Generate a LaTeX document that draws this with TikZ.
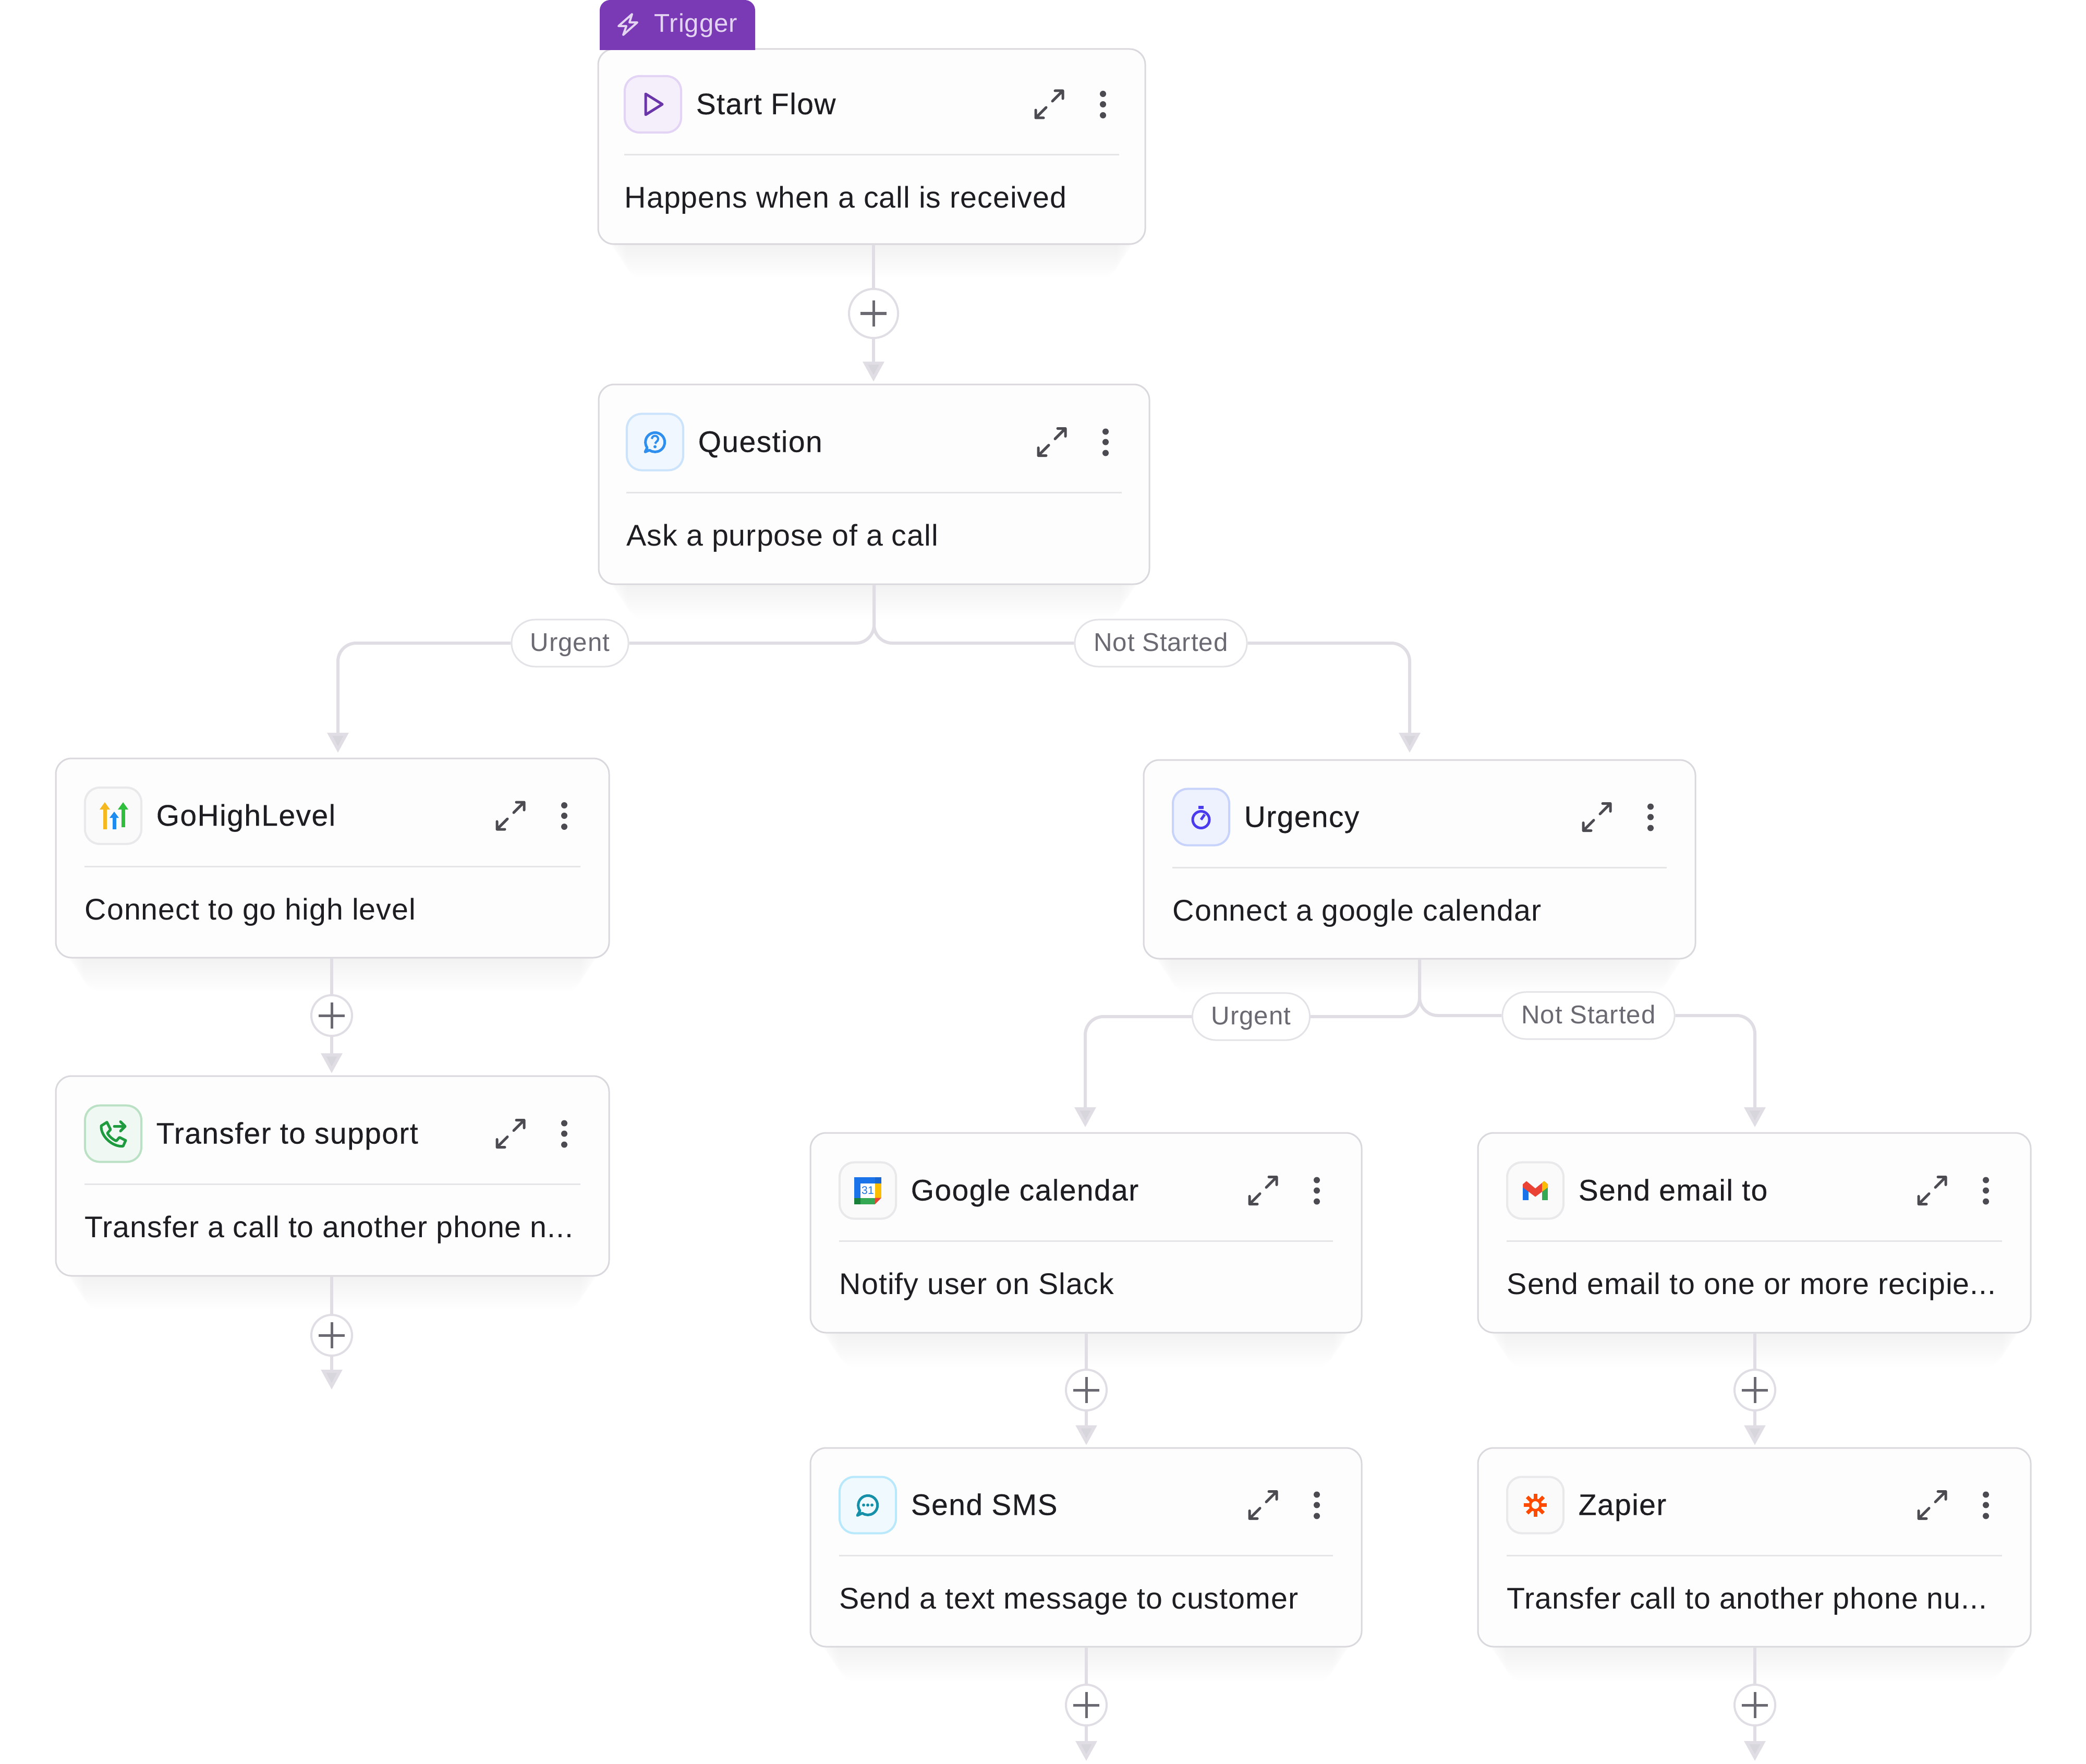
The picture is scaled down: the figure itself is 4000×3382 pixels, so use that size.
\documentclass[tikz,border=0pt]{standalone}
\usepackage{fontspec}
\setmainfont[LetterSpace=1.8]{Liberation Sans}
\newfontfamily\titlefont[LetterSpace=2.5,FakeBold=0.25]{Liberation Sans}
\usetikzlibrary{arrows.meta,shapes.misc}
\definecolor{cardline}{HTML}{DAD8DD}
\definecolor{cardfill}{HTML}{FDFDFE}
\definecolor{flowgrey}{HTML}{E0DEE4}
\definecolor{arrowgrey}{HTML}{D8D6DD}
\definecolor{inkdark}{HTML}{1D1D22}
\definecolor{inkgrey}{HTML}{4C4B52}
\definecolor{pillgrey}{HTML}{6B6971}
\definecolor{tabpurple}{HTML}{7B3AB5}
\definecolor{tablight}{HTML}{E3D5F2}
\definecolor{playpurple}{HTML}{6A35A8}
\definecolor{playframe}{HTML}{E3D4F5}
\definecolor{playfill}{HTML}{F4EFFB}
\definecolor{askblue}{HTML}{2F8FEF}
\definecolor{callgreen}{HTML}{1E9A3F}
\definecolor{timerblue}{HTML}{4A3BEF}
\definecolor{timerframe}{HTML}{C8D3FB}
\definecolor{timerfill}{HTML}{EEF1FE}
\definecolor{chatteal}{HTML}{1590A8}
\definecolor{zaporange}{HTML}{FF4A00}
\definecolor{gblue}{HTML}{1A73E8}
\definecolor{gdeep}{HTML}{1967D2}
\definecolor{ggreen}{HTML}{34A853}
\definecolor{gdark}{HTML}{188038}
\definecolor{gyellow}{HTML}{FBBC04}
\definecolor{gred}{HTML}{EA4335}
\definecolor{ghlyellow}{HTML}{F5B81F}
\definecolor{ghlblue}{HTML}{1D8BF0}
\definecolor{ghlgreen}{HTML}{2FBF3C}
\tikzset{
flowcard/.style={draw=cardline, fill=cardfill, line width=0.03cm, rounded corners=0.3cm, inner sep=0pt},
cardshadow/.style={fill=black, opacity=0.005, rounded corners=0.3cm},
iconbox/.style={rounded corners=0.28cm, line width=0.04cm, minimum size=1.08cm, inner sep=0pt},
cardtitle/.style={anchor=base west, inner sep=0pt, text=inkdark, font=\titlefont\fontsize{16.2}{20}\selectfont},
cardtext/.style={anchor=base west, inner sep=0pt, text=inkdark, font=\fontsize{16.3}{20}\selectfont},
divider/.style={draw=cardline!70, line width=0.03cm},
toolline/.style={draw=inkgrey, line width=0.05cm, line cap=round, line join=round},
tooldot/.style={circle, fill=inkgrey, minimum size=0.12cm, inner sep=0pt},
flowline/.style={draw=flowgrey, line width=0.06cm, rounded corners=0.35cm},
flowarrow/.style={flowline, -{Triangle[length=0.38cm,width=0.4cm,fill=arrowgrey]}, shorten >=0.04cm},
plusbtn/.style={circle, draw=flowgrey, fill=white, line width=0.04cm, minimum size=0.78cm, inner sep=0pt},
plusline/.style={draw=pillgrey, line width=0.05cm},
pill/.style={rounded rectangle, draw=cardline!75, fill=white, line width=0.03cm, minimum height=0.9cm, inner sep=0pt, text height=0.4cm, text depth=0.1cm, text=pillgrey, font=\fontsize{14}{17}\selectfont},
iconplain/.style={draw=cardline!60, fill=black!2},
iconplay/.style={draw=playframe, fill=playfill},
iconask/.style={draw=askblue!25, fill=askblue!7},
iconcall/.style={draw=callgreen!30, fill=callgreen!7},
icontimer/.style={draw=timerframe, fill=timerfill},
iconchat/.style={draw=cyan!28, fill=cyan!6},
}
\newcommand{\cardpad}{55}
\newcommand{\flowcardat}[8]{%
\begin{scope}[shift={(#2,#3)}]
\foreach \sh in {5,10,...,65} \fill[cardshadow] (10+\sh/1.5,#5-120) rectangle (#4-10-\sh/1.5,#5+\sh);
\node[flowcard, minimum width=#4*0.01cm, minimum height=#5*0.01cm] (#1) at (#4/2,#5/2) {};
\node[iconbox,#8] (#1icon) at (\cardpad+55,#5/2-81) {};
\node[cardtitle] (#1title) at (\cardpad+137,#5/2-62) {#6};
\draw[divider] (\cardpad,#5/2+16) -- (#4-\cardpad,#5/2+16);
\node[cardtext] (#1text) at (\cardpad,#5/2+118) {#7};
\begin{scope}[xshift=(55-\cardpad)*0.01cm]
\draw[toolline] (#4-183,#5/2-87) -- (#4-163,#5/2-107) (#4-178,#5/2-107) -- (#4-163,#5/2-107) -- (#4-163,#5/2-92);
\draw[toolline] (#4-195,#5/2-75) -- (#4-215,#5/2-55) (#4-215,#5/2-70) -- (#4-215,#5/2-55) -- (#4-200,#5/2-55);
\node[tooldot] (#1dota) at (#4-86,#5/2-101) {};
\node[tooldot] (#1dotb) at (#4-86,#5/2-81) {};
\node[tooldot] (#1dotc) at (#4-86,#5/2-60) {};
\end{scope}
\end{scope}}
\newcommand{\plusat}[4][plusbtn]{%
\node[#1] (#2) at (#3,#4) {};
\draw[plusline] ([xshift=-0.25cm]#2.center) -- ([xshift=0.25cm]#2.center) ([yshift=-0.25cm]#2.center) -- ([yshift=0.25cm]#2.center);}
\begin{document}
\begin{tikzpicture}[x=0.01cm,y=-0.01cm]
\path[use as bounding box, fill=white] (0,0) rectangle (4000,3382);
\renewcommand{\cardpad}{50}
\flowcardat{start}{1147}{94}{1049}{374}{Start Flow}{Happens when a call is received}{iconplay}
\renewcommand{\cardpad}{53}
\flowcardat{qst}{1148}{737}{1056}{383}{Question}{Ask a purpose of a call}{iconask}
\renewcommand{\cardpad}{55}
\flowcardat{ghl}{107}{1454}{1061}{382}{GoHighLevel}{Connect to go high level}{iconplain}
\flowcardat{tsf}{107}{2063}{1061}{383}{Transfer to support}{Transfer a call to another phone n...}{iconcall}
\flowcardat{urg}{2193}{1457}{1058}{381}{Urgency}{Connect a google calendar}{icontimer}
\flowcardat{cal}{1554}{2172}{1057}{383}{Google calendar}{Notify user on Slack}{iconplain}
\flowcardat{mail}{2834}{2172}{1060}{383}{Send email to}{Send email to one or more recipie...}{iconplain}
\flowcardat{sms}{1554}{2776}{1057}{381}{Send SMS}{Send a text message to customer}{iconchat}
\flowcardat{zap}{2834}{2776}{1060}{381}{Zapier}{Transfer call to another phone nu...}{iconplain}
\fill[tabpurple] (1150,96) [rounded corners=0.2cm] -- (1150,0) -- (1448,0) [sharp corners] -- (1448,96) -- cycle;
\node[anchor=base west, inner sep=0pt, text=tablight, font=\fontsize{14}{17}\selectfont] (triggerlabel) at (1254,62) {Trigger};
\draw[tablight, line width=0.04cm, line join=round] (1212,27) -- (1186,50) -- (1201,50) -- (1195,67) -- (1222,43) -- (1207,43) -- cycle;
\plusat[plusbtn, minimum size=0.94cm]{plusa}{1675}{601}
\plusat{plusb}{636}{1947}
\plusat{plusc}{636}{2560}
\plusat{plusd}{2083}{2665}
\plusat{pluse}{2083}{3269}
\plusat{plusf}{3365}{2665}
\plusat{plusg}{3365}{3269}
\node[pill, minimum width=2.24cm] (lbla) at (1093,1233) {Urgent};
\node[pill, minimum width=3.3cm] (lblb) at (2226,1233) {Not Started};
\node[pill, minimum width=2.25cm] (lblc) at (2399,1949) {Urgent};
\node[pill, minimum width=3.3cm] (lbld) at (3046,1947) {Not Started};
\coordinate (ghlin) at (648,1447);
\coordinate (urgin) at (2703,1447);
\coordinate (calin) at (2081,2165);
\coordinate (mailin) at (3365,2165);
\coordinate (endc) at (636,2668);
\coordinate (ende) at (2083,3380);
\coordinate (endg) at (3365,3380);
\draw[flowline] (plusa |- start.south) -- (plusa);
\draw[flowarrow] (plusa) -- (plusa |- qst.north);
\draw[flowline] (plusb |- ghl.south) -- (plusb);
\draw[flowarrow] (plusb) -- (plusb |- tsf.north);
\draw[flowline] (plusc |- tsf.south) -- (plusc);
\draw[flowarrow] (plusc) -- (endc);
\draw[flowline] (plusd |- cal.south) -- (plusd);
\draw[flowarrow] (plusd) -- (plusd |- sms.north);
\draw[flowline] (pluse |- sms.south) -- (pluse);
\draw[flowarrow] (pluse) -- (ende);
\draw[flowline] (plusf |- mail.south) -- (plusf);
\draw[flowarrow] (plusf) -- (plusf |- zap.north);
\draw[flowline] (plusg |- zap.south) -- (plusg);
\draw[flowarrow] (plusg) -- (endg);
\draw[flowline] (qst.south) |- (lbla.east);
\draw[flowline] (qst.south) |- (lblb.west);
\draw[flowarrow] (lbla.west) -| (ghlin);
\draw[flowarrow] (lblb.east) -| (urgin);
\draw[flowline] (urg.south) |- (lblc.east);
\draw[flowline] (urg.south) |- (lbld.west);
\draw[flowarrow] (lblc.west) -| (calin);
\draw[flowarrow] (lbld.east) -| (mailin);
\begin{scope}[shift={(starticon.center)}]
\draw[playpurple, line width=0.05cm, line join=round] (-14,-20) -- (18,0) -- (-14,20) -- cycle;
\end{scope}
\begin{scope}[shift={(qsticon.center)}]
\draw[askblue, line width=0.05cm, line join=round] (-15,11) arc[start angle=145, end angle=485, radius=18.5] -- (-19,19) -- cycle;
\draw[askblue, line width=0.04cm] (-6,-6) arc[start angle=180, end angle=420, radius=6] -- (0,3);
\fill[askblue] (0,9) circle (3);
\end{scope}
\begin{scope}[shift={(ghlicon.center)}, line width=0.07cm]
\draw[ghlyellow, -{Triangle[length=0.14cm,width=0.19cm]}] (-16,26) -- (-16,-26);
\draw[ghlblue, -{Triangle[length=0.12cm,width=0.17cm]}] (2,26) -- (2,-8);
\draw[ghlgreen, -{Triangle[length=0.14cm,width=0.19cm]}] (19,22) -- (19,-26);
\end{scope}
\begin{scope}[shift={(tsficon.center)}]
\draw[callgreen, line width=0.05cm, line join=round] (-23,-15) -- (-12,-22) -- (-5,-8) -- (-11,-1) .. controls (-7,6) and (-1,11) .. (6,14) -- (12,7) -- (24,13) -- (19,24) .. controls (0,26) and (-24,6) .. cycle;
\draw[callgreen, line width=0.05cm, line join=round, line cap=round] (2,-14) -- (23,-14) (14,-23) -- (23,-14) -- (14,-5);
\end{scope}
\begin{scope}[shift={(urgicon.center)}]
\draw[timerblue, line width=0.05cm] (0,5) circle (16);
\draw[timerblue, line width=0.05cm] (0,5) -- (7,-5);
\draw[timerblue, line width=0.06cm] (-5,-19) -- (5,-19);
\end{scope}
\begin{scope}[shift={(calicon.center)}]
\fill[white] (-14,-14) rectangle (14,14);
\fill[gblue] (-26,-26) rectangle (14,-14);
\fill[gblue] (-26,-14) rectangle (-14,14);
\fill[gdeep] (14,-26) rectangle (26,-14);
\fill[gyellow] (14,-14) rectangle (26,14);
\fill[ggreen] (-14,14) rectangle (14,26);
\fill[gdark] (-26,14) rectangle (-14,26);
\fill[gred] (14,14) -- (26,14) -- (14,26) -- cycle;
\node[inner sep=0pt, text=gblue, font=\fontsize{6}{7}\selectfont] (calday) at (0,0) {31};
\end{scope}
\begin{scope}[shift={(mailicon.center)}]
\fill[gblue] (-24,-10) rectangle (-13,18);
\fill[ggreen] (13,-10) rectangle (24,18);
\fill[gred] (-24,-12) -- (-17,-18) -- (0,-4) -- (17,-18) -- (24,-12) -- (24,-6) -- (0,12) -- (-24,-6) -- cycle;
\fill[gyellow] (13,-15) -- (17,-18) -- (24,-12) -- (24,-6) -- (13,2) -- cycle;
\end{scope}
\begin{scope}[shift={(smsicon.center)}]
\draw[chatteal, line width=0.05cm, line join=round] (-15,11) arc[start angle=145, end angle=485, radius=18.5] -- (-20,20) -- cycle;
\foreach \dx in {-8,0,8} \fill[chatteal] (\dx,0) circle (3);
\end{scope}
\begin{scope}[shift={(zapicon.center)}]
\foreach \ang in {0,45,...,315} \draw[zaporange, line width=0.07cm] (\ang:8) -- (\ang:22);
\draw[zaporange, line width=0.05cm] (0,0) circle (10);
\end{scope}
\end{tikzpicture}
\end{document}
